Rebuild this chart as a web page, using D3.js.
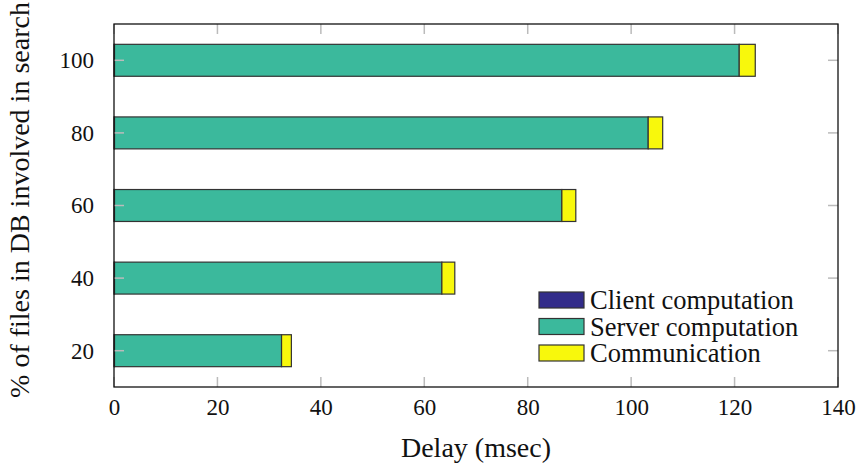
<!DOCTYPE html>
<html>
<head>
<meta charset="utf-8">
<script src="https://cdn.jsdelivr.net/npm/d3@7"></script>
<style>
  body { margin: 0; background: #fff; }
  text { font-family: "Liberation Serif", "DejaVu Serif", serif; fill: #111; }
</style>
</head>
<body>
<div id="chart"></div>
<script>
// dati
const categories = [20, 40, 60, 80, 100];
const clientValues = [0.1, 0.1, 0.1, 0.1, 0.1];
const serverValues = [32.3, 63.3, 86.5, 103.2, 120.8];
const commValues = [1.9, 2.5, 2.7, 2.8, 3.1];
const seriesNames = ["Client computation", "Server computation", "Communication"];
const seriesColors = ["#322c8a", "#3bb99c", "#f8f80c"];
const xTicks = [0, 20, 40, 60, 80, 100, 120, 140];

const width = 864, height = 466;
const margin = { top: 24, right: 26, bottom: 79, left: 114 };
const tickFont = "23px";
const labelFont = "28px";

const svg = d3.select("#chart").append("svg")
  .attr("width", width)
  .attr("height", height);

const x = d3.scaleLinear().domain([0, 140]).range([margin.left, width - margin.right]);
const y = d3.scaleLinear().domain([10, 110]).range([height - margin.bottom, margin.top]);
const barH = y(0) - y(8.8);

// tabella per lo stack
const table = categories.map((c, i) => ({
  cat: c,
  [seriesNames[0]]: clientValues[i],
  [seriesNames[1]]: serverValues[i],
  [seriesNames[2]]: commValues[i]
}));
const stacked = d3.stack().keys(seriesNames)(table);

// barre
svg.append("g")
  .selectAll("g")
  .data(stacked)
  .enter().append("g")
  .attr("fill", (d, i) => seriesColors[i])
  .selectAll("rect")
  .data(d => d)
  .enter().append("rect")
  .attr("x", d => x(d[0]))
  .attr("width", d => x(d[1]) - x(d[0]))
  .attr("y", d => y(d.data.cat) - barH / 2)
  .attr("height", barH)
  .attr("stroke", "#333")
  .attr("stroke-width", 1.2);

// tacche (dentro il riquadro, anche in alto e a destra)
const tickLen = 10;
const ticks = svg.append("g").attr("stroke", "#bbb").attr("stroke-width", 1.5);
xTicks.forEach(t => {
  ticks.append("line").attr("x1", x(t)).attr("x2", x(t))
    .attr("y1", y(10)).attr("y2", y(10) - tickLen);
  ticks.append("line").attr("x1", x(t)).attr("x2", x(t))
    .attr("y1", y(110)).attr("y2", y(110) + tickLen);
});
categories.forEach(c => {
  ticks.append("line").attr("x1", x(0)).attr("x2", x(0) + tickLen)
    .attr("y1", y(c)).attr("y2", y(c));
  ticks.append("line").attr("x1", x(140)).attr("x2", x(140) - tickLen)
    .attr("y1", y(c)).attr("y2", y(c));
});

// riquadro
svg.append("rect")
  .attr("x", x(0)).attr("y", y(110))
  .attr("width", x(140) - x(0)).attr("height", y(10) - y(110))
  .attr("fill", "none").attr("stroke", "#111").attr("stroke-width", 1.3);

// etichette assi
const xAxis = d3.axisBottom(x).tickValues(xTicks).tickSize(0).tickPadding(12);
svg.append("g").attr("transform", `translate(0,${y(10)})`).call(xAxis)
  .call(g => g.select(".domain").remove())
  .selectAll("text").style("font-size", tickFont).attr("fill", "#111")
  .style("font-family", "'Liberation Serif', serif");

const yAxis = d3.axisLeft(y).tickValues(categories).tickSize(0).tickPadding(20);
svg.append("g").attr("transform", `translate(${x(0)},0)`).call(yAxis)
  .call(g => g.select(".domain").remove())
  .selectAll("text").style("font-size", tickFont).attr("fill", "#111")
  .style("font-family", "'Liberation Serif', serif");

svg.append("text")
  .attr("x", (x(0) + x(140)) / 2).attr("y", 457)
  .attr("text-anchor", "middle").style("font-size", labelFont)
  .text("Delay (msec)");

svg.append("text")
  .attr("transform", `translate(29,200) rotate(-90)`)
  .attr("text-anchor", "middle").style("font-size", labelFont)
  .text("% of files in DB involved in search");

// legenda
const legend = svg.append("g").attr("transform", "translate(539,292)");
seriesNames.forEach((name, i) => {
  const row = legend.append("g").attr("transform", `translate(0,${i * 26.5})`);
  row.append("rect").attr("width", 45).attr("height", 16)
    .attr("fill", seriesColors[i]).attr("stroke", "#333").attr("stroke-width", 1.2);
  row.append("text").attr("x", 51).attr("y", 17)
    .style("font-size", "26.5px").text(name);
});
</script>
</body>
</html>
